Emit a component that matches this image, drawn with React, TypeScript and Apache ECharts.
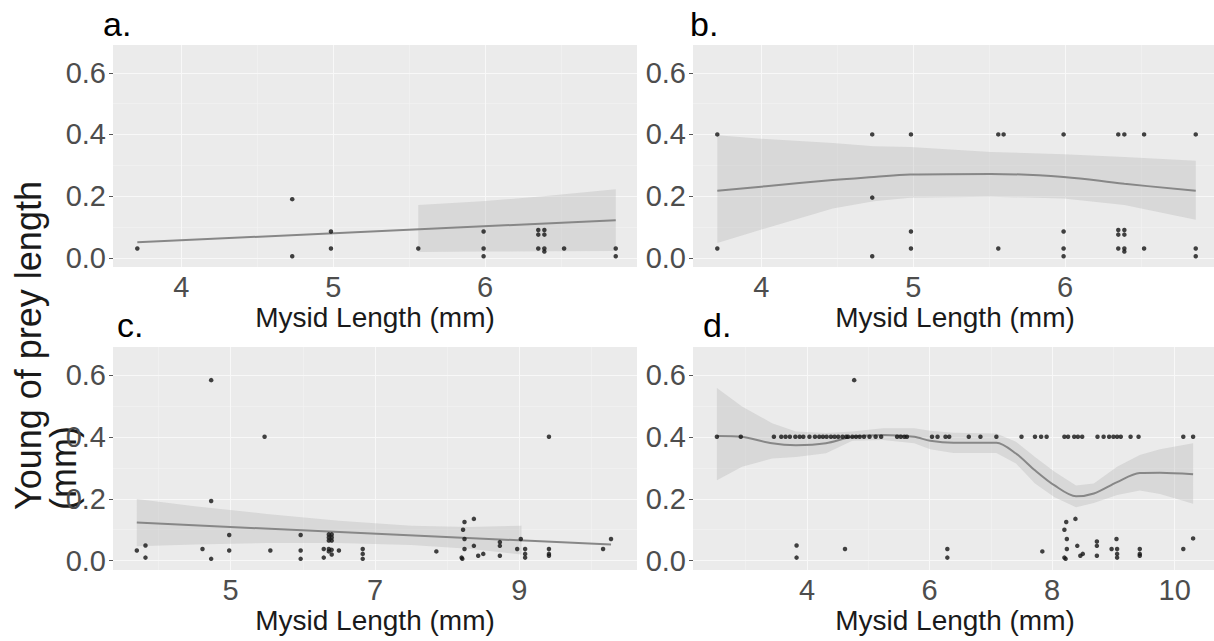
import React, { useEffect, useRef } from "react";
import * as echarts from "echarts";

const FONT = '"Liberation Sans", Arial, Helvetica, sans-serif';

// ---------- shared axis definitions ----------
const yRange = [-0.03, 0.69];
const yMajor = [0, 0.2, 0.4, 0.6];
const yMinor = [0.1, 0.3, 0.5];

const abRange = [3.55, 7.0];
const abMajor = [4, 5, 6];
const abMinor = [4.5, 5.5, 6.5];

const cRange = [3.37, 10.63];
const cMajor = [5, 7, 9];
const cMinor = [4, 6, 8, 10];

const dRange = [2.14, 10.69];
const dMajor = [4, 6, 8, 10];
const dMinor = [3, 5, 7, 9];

const panelLabels = ["a.", "b.", "c.", "d."];
const xTitle = "Mysid Length (mm)";
const yTitle = "Young of prey length\n(mm)";

// ---------- panel a ----------
const aX = [3.71, 4.73, 4.73, 4.985, 4.985, 5.56, 5.99, 5.99, 5.99, 6.35, 6.35, 6.35, 6.39, 6.39, 6.39, 6.39, 6.52, 6.86, 6.86];
const aY = [0.03, 0.19, 0.005, 0.085, 0.03, 0.03, 0.085, 0.03, 0.005, 0.09, 0.075, 0.03, 0.09, 0.075, 0.03, 0.02, 0.03, 0.03, 0.005];
const aFitX = [3.71, 6.86];
const aFitY = [0.05, 0.122];
const aBandX = [5.56, 5.98, 6.4, 6.86];
const aBandHi = [0.171, 0.183, 0.2, 0.222];
const aBandLo = [0.019, 0.02, 0.021, 0.022];

// ---------- panel b ----------
const bX = [3.71, 4.73, 4.985, 5.56, 5.595, 5.99, 6.35, 6.39, 6.52, 6.86,
  4.73,
  3.71, 4.73, 4.985, 4.985, 5.56, 5.99, 5.99, 5.99, 6.35, 6.35, 6.35, 6.39, 6.39, 6.39, 6.39, 6.52, 6.86, 6.86];
const bY = [0.4, 0.4, 0.4, 0.4, 0.4, 0.4, 0.4, 0.4, 0.4, 0.4,
  0.195,
  0.03, 0.005, 0.085, 0.03, 0.03, 0.085, 0.03, 0.005, 0.09, 0.075, 0.03, 0.09, 0.075, 0.03, 0.02, 0.03, 0.03, 0.005];
const bFitX = [3.71, 4.03, 4.47, 4.74, 4.98, 5.51, 5.99, 6.39, 6.86];
const bFitY = [0.217, 0.232, 0.252, 0.262, 0.27, 0.272, 0.262, 0.24, 0.217];
const bBandHi = [0.397, 0.385, 0.372, 0.362, 0.359, 0.343, 0.336, 0.327, 0.315];
const bBandLo = [0.048, 0.096, 0.16, 0.183, 0.195, 0.198, 0.192, 0.171, 0.123];

// ---------- panel c ----------
const cX = [3.70, 3.82, 3.82, 4.61, 4.73, 4.73, 4.73, 4.98, 4.98, 5.47, 5.55, 5.97, 5.97, 5.97, 6.29, 6.29,
  6.36, 6.36, 6.36, 6.36, 6.36, 6.40, 6.40, 6.40, 6.40, 6.40, 6.50, 6.83, 6.83, 6.83, 7.85, 8.20, 8.21, 8.22,
  8.24, 8.24, 8.24, 8.37, 8.37, 8.43, 8.50, 8.73, 8.73, 8.73, 8.97, 9.02, 9.08, 9.08, 9.08, 9.41, 9.41, 9.41, 9.41,
  10.16, 10.27];
const cY = [0.033, 0.049, 0.01, 0.038, 0.583, 0.193, 0.006, 0.083, 0.033, 0.40, 0.033, 0.083, 0.033, 0.006, 0.038, 0.01,
  0.085, 0.075, 0.065, 0.038, 0.03, 0.085, 0.075, 0.065, 0.035, 0.02, 0.033, 0.038, 0.022, 0.006, 0.03, 0.01, 0.006, 0.10,
  0.125, 0.07, 0.038, 0.135, 0.048, 0.016, 0.022, 0.06, 0.048, 0.016, 0.038, 0.07, 0.038, 0.022, 0.01, 0.40, 0.038, 0.022, 0.016,
  0.038, 0.07];
const cFitX = [3.70, 10.27];
const cFitY = [0.123, 0.052];
const cBandX = [3.70, 4.5, 5.5, 6.5, 7.5, 8.3, 9.03];
const cBandHi = [0.199, 0.176, 0.151, 0.129, 0.113, 0.109, 0.113];
const cBandLo = [0.047, 0.052, 0.057, 0.057, 0.051, 0.039, 0.02];

// ---------- panel d ----------
const dTopX = [2.53, 2.92, 3.46, 3.58, 3.65, 3.72, 3.81, 3.88, 3.94, 4.04,
  4.13, 4.20, 4.26, 4.32, 4.39, 4.45, 4.51, 4.58, 4.64, 4.67,
  4.74, 4.80, 4.86, 4.93, 5.02, 5.12, 5.21, 5.47, 5.53, 5.59,
  5.63, 6.04, 6.13, 6.26, 6.32, 6.64, 6.83, 7.09, 7.50, 7.72,
  7.82, 7.91, 8.20, 8.26, 8.36, 8.42, 8.49, 8.74, 8.84, 8.93,
  9.00, 9.06, 9.12, 9.28, 9.41, 10.14, 10.30];
const dTopY = [0.4, 0.4, 0.4, 0.4, 0.4, 0.4, 0.4, 0.4, 0.4, 0.4,
  0.4, 0.4, 0.4, 0.4, 0.4, 0.4, 0.4, 0.4, 0.4, 0.4,
  0.4, 0.4, 0.4, 0.4, 0.4, 0.4, 0.4, 0.4, 0.4, 0.4,
  0.4, 0.4, 0.4, 0.4, 0.4, 0.4, 0.4, 0.4, 0.4, 0.4,
  0.4, 0.4, 0.4, 0.4, 0.4, 0.4, 0.4, 0.4, 0.4, 0.4,
  0.4, 0.4, 0.4, 0.4, 0.4, 0.4, 0.4];
const dLowX = [3.83, 3.83, 4.62, 4.77, 6.29, 6.29, 7.84, 8.20, 8.22, 8.23, 8.20, 8.24, 8.24, 8.38, 8.41,
  8.46, 8.50, 8.73, 8.73, 8.73, 9.05, 8.97, 9.06, 9.06, 9.06, 9.43, 9.43, 9.43, 10.14, 10.30];
const dLowY = [0.049, 0.01, 0.038, 0.583, 0.038, 0.01, 0.03, 0.01, 0.006, 0.125, 0.10, 0.07, 0.038, 0.135, 0.048,
  0.016, 0.022, 0.062, 0.048, 0.016, 0.07, 0.038, 0.038, 0.022, 0.01, 0.038, 0.022, 0.016, 0.038, 0.072];
const dFitX = [2.53, 2.94, 3.43, 3.82, 4.31, 4.74, 5.24, 5.75, 6.01, 6.39, 7.09, 7.41, 7.72, 8.04, 8.39, 8.68, 9.06, 9.43, 9.76, 10.3];
const dFitY = [0.403, 0.400, 0.379, 0.373, 0.379, 0.400, 0.406, 0.400, 0.387, 0.381, 0.381, 0.346, 0.292, 0.243, 0.208, 0.217, 0.254, 0.283, 0.284, 0.279];
const dBandHi = [0.558, 0.498, 0.444, 0.417, 0.412, 0.417, 0.428, 0.428, 0.420, 0.413, 0.411, 0.384, 0.335, 0.287, 0.243, 0.249, 0.303, 0.341, 0.36, 0.379];
const dBandLo = [0.26, 0.303, 0.33, 0.335, 0.347, 0.387, 0.39, 0.379, 0.36, 0.348, 0.348, 0.314, 0.249, 0.205, 0.173, 0.186, 0.212, 0.227, 0.215, 0.184];

const pairs = (xs: number[], ys: number[]) => xs.map((x, k) => [x, ys[k]]);

function buildOption() {
  const layout = [
    { left: 113, top: 45, width: 524, height: 222 },
    { left: 693, top: 45, width: 524, height: 222 },
    { left: 113, top: 347, width: 524, height: 223 },
    { left: 693, top: 347, width: 524, height: 223 },
  ];
  const grids = layout.map((g) => ({
    ...g,
    show: true,
    backgroundColor: "#EBEBEB",
    borderWidth: 0,
    containLabel: false,
    outerBoundsMode: "none",
  }));

  const xSpecs = [
    { range: abRange, major: abMajor, minor: abMinor },
    { range: abRange, major: abMajor, minor: abMinor },
    { range: cRange, major: cMajor, minor: cMinor },
    { range: dRange, major: dMajor, minor: dMinor },
  ];

  const xAxes = xSpecs.map((s, i) => ({
    type: "value",
    gridIndex: i,
    min: s.range[0],
    max: s.range[1],
    axisLine: { show: false },
    splitLine: { show: false },
    axisTick: { show: true, customValues: s.major, length: 4, lineStyle: { color: "#555555", width: 1 } },
    axisLabel: {
      customValues: s.major,
      fontSize: 29,
      fontFamily: FONT,
      color: "#4D4D4D",
      margin: 5,
      formatter: (v: number) => String(v),
    },
    name: xTitle,
    nameLocation: "middle",
    nameGap: 36,
    nameTextStyle: { fontSize: 28, fontFamily: FONT, color: "#1a1a1a" },
  }));

  const yAxes = [0, 1, 2, 3].map((i) => ({
    type: "value",
    gridIndex: i,
    min: yRange[0],
    max: yRange[1],
    axisLine: { show: false },
    splitLine: { show: false },
    axisTick: { show: true, customValues: yMajor, length: 4, lineStyle: { color: "#555555", width: 1 } },
    axisLabel: {
      customValues: yMajor,
      fontSize: 29,
      fontFamily: FONT,
      color: "#4D4D4D",
      margin: 7,
      formatter: (v: number) => v.toFixed(1),
    },
  }));

  const gridLines = (i: number) => {
    const s = xSpecs[i];
    const major = { color: "#F8F8F8", width: 1.1, type: "solid" };
    const minor = { color: "#F2F2F2", width: 0.7, type: "solid" };
    return {
      type: "line",
      xAxisIndex: i,
      yAxisIndex: i,
      data: [],
      silent: true,
      z: 1,
      markLine: {
        z: 1,
        silent: true,
        symbol: ["none", "none"],
        animation: false,
        label: { show: false },
        emphasis: { disabled: true },
        data: [
          ...s.minor.map((v) => ({ xAxis: v, lineStyle: minor })),
          ...yMinor.map((v) => ({ yAxis: v, lineStyle: minor })),
          ...s.major.map((v) => ({ xAxis: v, lineStyle: major })),
          ...yMajor.map((v) => ({ yAxis: v, lineStyle: major })),
        ],
      },
    };
  };

  const band = (i: number, bx: number[], lo: number[], hi: number[]) => ({
    type: "custom",
    coordinateSystem: "cartesian2d",
    xAxisIndex: i,
    yAxisIndex: i,
    data: [[bx[0], lo[0]]],
    clip: true,
    silent: true,
    z: 2,
    renderItem: (_p: any, api: any) => {
      const pts: number[][] = [];
      for (let k = 0; k < bx.length; k++) pts.push(api.coord([bx[k], hi[k]]));
      for (let k = bx.length - 1; k >= 0; k--) pts.push(api.coord([bx[k], lo[k]]));
      return {
        type: "polygon",
        shape: { points: pts },
        style: { fill: "#9a9a9a", opacity: 0.24 },
      };
    },
  });

  const fit = (i: number, fx: number[], fy: number[], smooth: number) => ({
    type: "line",
    xAxisIndex: i,
    yAxisIndex: i,
    data: pairs(fx, fy),
    showSymbol: false,
    symbol: "none",
    smooth,
    silent: true,
    z: 3,
    lineStyle: { color: "#878787", width: 2 },
  });

  const pts = (i: number, xs: number[], ys: number[]) => ({
    type: "scatter",
    xAxisIndex: i,
    yAxisIndex: i,
    data: pairs(xs, ys),
    symbolSize: 4.5,
    silent: true,
    z: 4,
    itemStyle: { color: "#141414" },
  });

  const series: any[] = [
    gridLines(0), gridLines(1), gridLines(2), gridLines(3),
    band(0, aBandX, aBandLo, aBandHi),
    band(1, bFitX, bBandLo, bBandHi),
    band(2, cBandX, cBandLo, cBandHi),
    band(3, dFitX, dBandLo, dBandHi),
    fit(0, aFitX, aFitY, 0),
    fit(1, bFitX, bFitY, 0.4),
    fit(2, cFitX, cFitY, 0),
    fit(3, dFitX, dFitY, 0.3),
    pts(0, aX, aY),
    pts(1, bX, bY),
    pts(2, cX, cY),
    pts(3, [...dTopX, ...dLowX], [...dTopY, ...dLowY]),
  ];

  const labelPos = [
    { x: 103, y: 24 },
    { x: 690, y: 24 },
    { x: 117, y: 325 },
    { x: 703, y: 325 },
  ];

  const graphic: any[] = [
    ...panelLabels.map((t, k) => ({
      type: "text",
      x: labelPos[k].x,
      y: labelPos[k].y,
      silent: true,
      style: {
        text: t,
        font: `34px ${FONT}`,
        fill: "#000000",
        align: "left",
        verticalAlign: "middle",
      },
    })),
    {
      type: "text",
      x: 11,
      y: 510,
      rotation: Math.PI / 2,
      silent: true,
      style: {
        text: yTitle,
        font: `36px ${FONT}`,
        fill: "#1a1a1a",
        align: "left",
        verticalAlign: "top",
        lineHeight: 35,
      },
    },
  ];

  return {
    animation: false,
    backgroundColor: "#FFFFFF",
    grid: grids,
    xAxis: xAxes,
    yAxis: yAxes,
    series,
    graphic,
  };
}

export default function App() {
  const ref = useRef<HTMLDivElement>(null);
  useEffect(() => {
    if (!ref.current) return;
    const chart = echarts.init(ref.current, undefined, { renderer: "svg" });
    chart.setOption(buildOption() as any);
    return () => chart.dispose();
  }, []);
  return (
    <div
      ref={ref}
      style={{ position: "fixed", left: 0, top: 0, width: 1214, height: 641, background: "#fff" }}
    />
  );
}
